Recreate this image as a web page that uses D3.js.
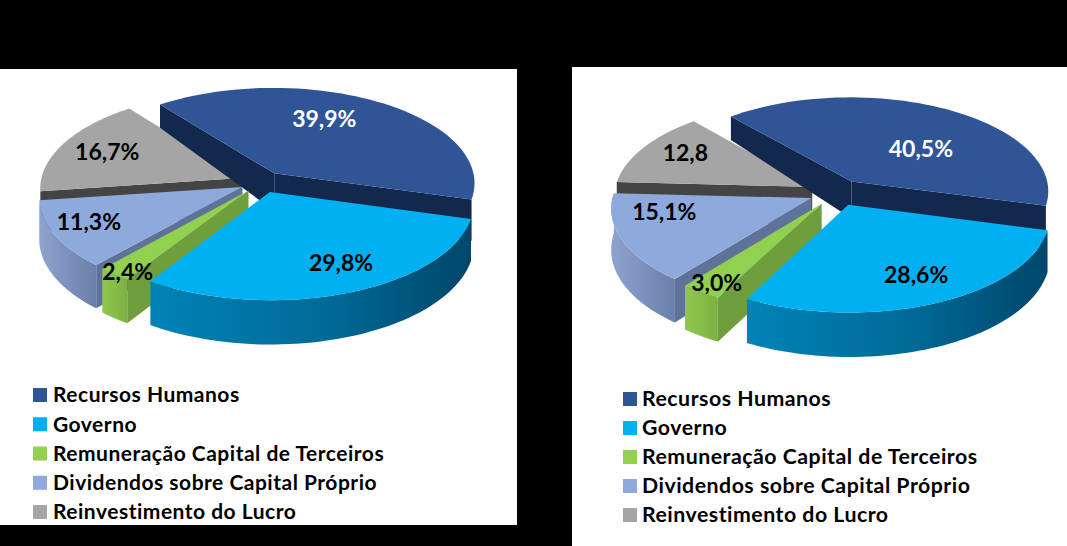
<!DOCTYPE html>
<html>
<head>
<meta charset="utf-8">
<script src="https://cdn.jsdelivr.net/npm/d3@7"></script>
<style>
  html, body { margin: 0; padding: 0; background: #000; overflow: hidden; }
  svg { display: block; }
  text { font-family: Lato, "Open Sans", sans-serif; font-weight: 700; }
</style>
</head>
<body>
<div id="chart"></div>
<script>
// data
var categories = ["Recursos Humanos", "Governo", "Remuneração Capital de Terceiros", "Dividendos sobre Capital Próprio", "Reinvestimento do Lucro"];
var leftValues = [39.9, 29.8, 2.4, 11.3, 16.7];
var rightValues = [40.5, 28.6, 3.0, 15.1, 12.8];
var leftLabels = ["39,9%", "29,8%", "2,4%", "11,3%", "16,7%"];
var rightLabels = ["40,5%", "28,6%", "3,0%", "15,1%", "12,8"];

// colours, per category
var topColors = ["#2F5597", "#00B0F0", "#92D050", "#8EA9DB", "#A5A5A5"];
var faceColors = ["#12284C", "#00567C", "#6F9E3C", "#5F7299", "#444444"];
var rimLeft = ["#1D3660", "#0083B8", "#8FC84C", "#8EA3CE", "#8A8A8A"];
var rimMid = ["#1D3660", "#006A97", "#86BC48", "#7A90BC", "#777777"];
var rimRight = ["#12284C", "#00466A", "#7BAF42", "#6A7FA9", "#555555"];

var svg = d3.select("#chart").append("svg")
  .attr("width", 1067)
  .attr("height", 546);

// layout of the two panels
var panels = [
  { id: "l", values: leftValues, labels: leftLabels,
    box: [0, 69, 517, 456], cx: 262, cy: 182, start: -37.8, explode: 0.11,
    radiusX: 201, radiusY: 95.5,
    nudge: [[-13, -10], [25, 13], [-43, 33], [-43, 7], [-26, -5]],
    legendX: 33, legendY: [395, 512], textGap: 20, fontSize: 21 },
  { id: "r", values: rightValues, labels: rightLabels,
    box: [572, 67, 495, 479], cx: 837, cy: 192.6, start: -41, explode: 0.14,
    radiusX: 198, radiusY: 94.5,
    nudge: [[11, 12], [16, 14], [-35, 28], [-35, -10], [-24, -10]],
    legendX: 623, legendY: [399, 515], textGap: 19, fontSize: 21.3 }
];

var persp = 0.0985;

// wall height grows toward the viewer, most of it by the middle of the disc
var depth = d3.scaleLinear().domain([-1, 0.1, 1]).range([21, 41, 44]);
var pathLine = d3.line().x(d => d[0]).y(d => d[1]);

function drawPanel(p) {
  var g = svg.append("g");

  g.append("rect")
    .attr("x", p.box[0]).attr("y", p.box[1])
    .attr("width", p.box[2]).attr("height", p.box[3])
    .attr("fill", "#fff");

  var pie = d3.pie().sort(null)
    .startAngle(p.start * Math.PI / 180)
    .endAngle((p.start + 360) * Math.PI / 180);
  var arcs = pie(p.values);

  // disc coordinates -> screen
  function project(X, Y, low) {
    var s = 1 / (1 - persp * Y);
    return [p.cx + p.radiusX * X * s, p.cy + p.radiusY * Y * s + (low ? depth(Y) : 0)];
  }

  arcs.forEach(function(a) {
    var mid = (a.startAngle + a.endAngle) / 2;
    a.ox = Math.sin(mid) * p.explode;
    a.oy = -Math.cos(mid) * p.explode;
    a.point = function(angle, r, low) {
      return project(a.ox + Math.sin(angle) * r, a.oy - Math.cos(angle) * r, low);
    };
    a.mid = mid;
  });

  // painter's order: back slices first
  var order = [4, 0, 3, 2, 1];

  order.forEach(function(i) {
    var a = arcs[i];
    var n = 60;
    var angles = d3.range(n + 1).map(k => a.startAngle + (a.endAngle - a.startAngle) * k / n);

    var gradId = "rim-" + p.id + "-" + i;
    var grad = g.append("linearGradient").attr("id", gradId);
    grad.append("stop").attr("offset", "0%").attr("stop-color", rimLeft[i]);
    grad.append("stop").attr("offset", "55%").attr("stop-color", rimMid[i]);
    grad.append("stop").attr("offset", "100%").attr("stop-color", rimRight[i]);

    // rim wall, back slices don't show one
    if (Math.cos(a.mid) < 0) {
      var wall = angles.map(t => a.point(t, 1, false))
        .concat(angles.slice().reverse().map(t => a.point(t, 1, true)));
      g.append("path")
        .attr("d", pathLine(wall) + "Z")
        .attr("fill", "url(#" + gradId + ")");
    }

    // cut faces, only the ones turned to the viewer
    var faces = [];
    if (Math.sin(a.startAngle) < 0) faces.push(a.startAngle);
    if (Math.sin(a.endAngle) > 0) faces.push(a.endAngle);
    faces.forEach(function(t) {
      var face = [a.point(t, 0, false), a.point(t, 1, false), a.point(t, 1, true), a.point(t, 0, true)];
      g.append("path")
        .attr("d", pathLine(face) + "Z")
        .attr("fill", faceColors[i]);
    });

    // top of the slice
    var top = [a.point(0, 0, false)].concat(angles.map(t => a.point(t, 1, false)));
    g.append("path")
      .attr("d", pathLine(top) + "Z")
      .attr("fill", topColors[i]);
  });

  // value labels
  arcs.forEach(function(a, i) {
    var c = a.point(a.mid, 0.6, false);
    g.append("text")
      .attr("x", c[0] + p.nudge[i][0])
      .attr("y", c[1] + p.nudge[i][1])
      .attr("dy", "0.35em")
      .attr("text-anchor", "middle")
      .attr("font-size", 23)
      .attr("fill", i === 0 ? "#fff" : "#000")
      .text(p.labels[i]);
  });

  // legend
  var legendScale = d3.scalePoint().domain(categories).range(p.legendY);
  categories.forEach(function(name, i) {
    var y = legendScale(name);
    g.append("rect")
      .attr("x", p.legendX).attr("y", y - 7)
      .attr("width", 14).attr("height", 14)
      .attr("fill", topColors[i]);
    g.append("text")
      .attr("x", p.legendX + p.textGap)
      .attr("y", y)
      .attr("dy", "0.35em")
      .attr("font-size", p.fontSize)
      .attr("letter-spacing", 0.5)
      .attr("fill", "#000")
      .text(name);
  });
}

panels.forEach(drawPanel);
</script>
</body>
</html>
